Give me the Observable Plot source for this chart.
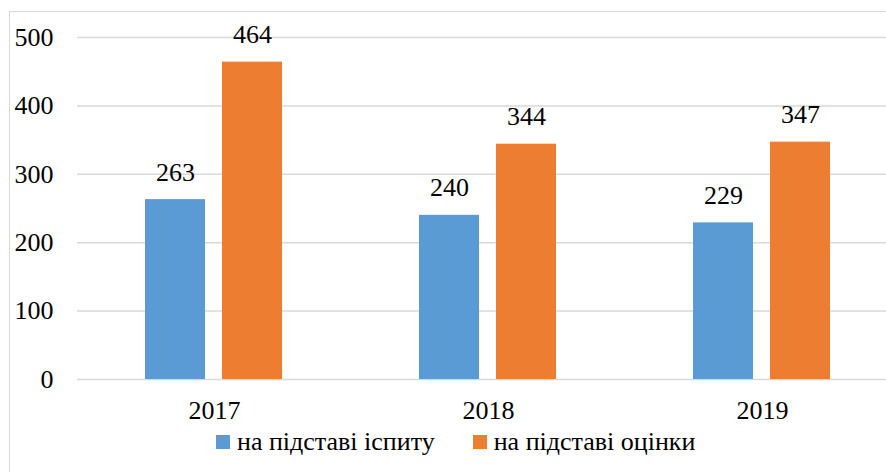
<!DOCTYPE html>
<html><head><meta charset="utf-8">
<script src="https://cdn.jsdelivr.net/npm/d3@7"></script>
<script src="https://cdn.jsdelivr.net/npm/@observablehq/plot@0.6"></script>
<style>
body{margin:0;background:#fff;}
#wrap{position:relative;width:886px;height:472px;overflow:hidden;font-family:"Liberation Serif","Times New Roman",Times,serif;}
#frame{position:absolute;left:9px;top:11px;width:900px;height:480px;border:1.5px solid #d9d9d9;box-sizing:border-box;}
#chart{position:absolute;left:0;top:0;width:899px;}
#chart svg{max-width:none !important;font-family:"Liberation Serif",serif !important;}
#chart svg text{font-family:"Liberation Serif",serif !important;}
#legend{position:absolute;left:216px;top:427px;display:flex;align-items:center;font-size:26px;color:#000;white-space:nowrap;font-family:"Liberation Serif",serif;}
.sw{display:inline-block;width:14px;height:14px;margin-right:7px;}
.item{display:flex;align-items:center;margin-right:38px;}
</style></head>
<body>
<div id="wrap"><div id="frame"></div><div id="chart"></div><div id="legend"></div></div>
<script>
const years = ["2017", "2018", "2019"];
const seriesNames = ["на підставі іспиту", "на підставі оцінки"];
const examValues = [263, 240, 229];
const gradeValues = [464, 344, 347];
const colors = ["#5B9BD5", "#ED7D31"];
const yTicks = [0, 100, 200, 300, 400, 500];
const FONT = "Liberation Serif";

const data = [];
years.forEach((y, i) => {
  data.push({year: y, series: seriesNames[0], value: examValues[i]});
  data.push({year: y, series: seriesNames[1], value: gradeValues[i]});
});

const chart = Plot.plot({
  width: 899,
  height: 472,
  marginLeft: 77,
  marginRight: 0,
  marginTop: 37,
  marginBottom: 93,
  style: {fontFamily: FONT, fontSize: "26px", color: "#000", background: "transparent", overflow: "visible", maxWidth: "none"},
  fx: {domain: years, padding: 0, label: null},
  x: {domain: seriesNames, paddingInner: 0.218, paddingOuter: 0.866, axis: null},
  y: {domain: [0, 500], ticks: yTicks, label: null},
  color: {domain: seriesNames, range: colors},
  marks: [
    Plot.gridY(yTicks, {stroke: "#d9d9d9", strokeOpacity: 1, strokeWidth: 1.5}),
    Plot.axisY(yTicks, {tickSize: 0, tickPadding: 24, label: null, fontSize: 26, fontFamily: FONT, fontVariant: "normal"}),
    Plot.axisFx({anchor: "bottom", tickSize: 0, tickPadding: 21, label: null, fontSize: 26, fontFamily: FONT}),
    Plot.barY(data, {fx: "year", x: "series", y: "value", fill: "series"}),
    Plot.text(data, {fx: "year", x: "series", y: "value", text: d => String(d.value), dy: -19, lineAnchor: "bottom", fontSize: 26, fontFamily: FONT, fill: "#000"})
  ]
});
document.getElementById("chart").appendChild(chart);

const legend = document.getElementById("legend");
seriesNames.forEach((s, i) => {
  const it = document.createElement("div");
  it.className = "item";
  const sw = document.createElement("span");
  sw.className = "sw";
  sw.style.background = colors[i];
  it.appendChild(sw);
  it.appendChild(document.createTextNode(s));
  legend.appendChild(it);
});
</script>
</body></html>
